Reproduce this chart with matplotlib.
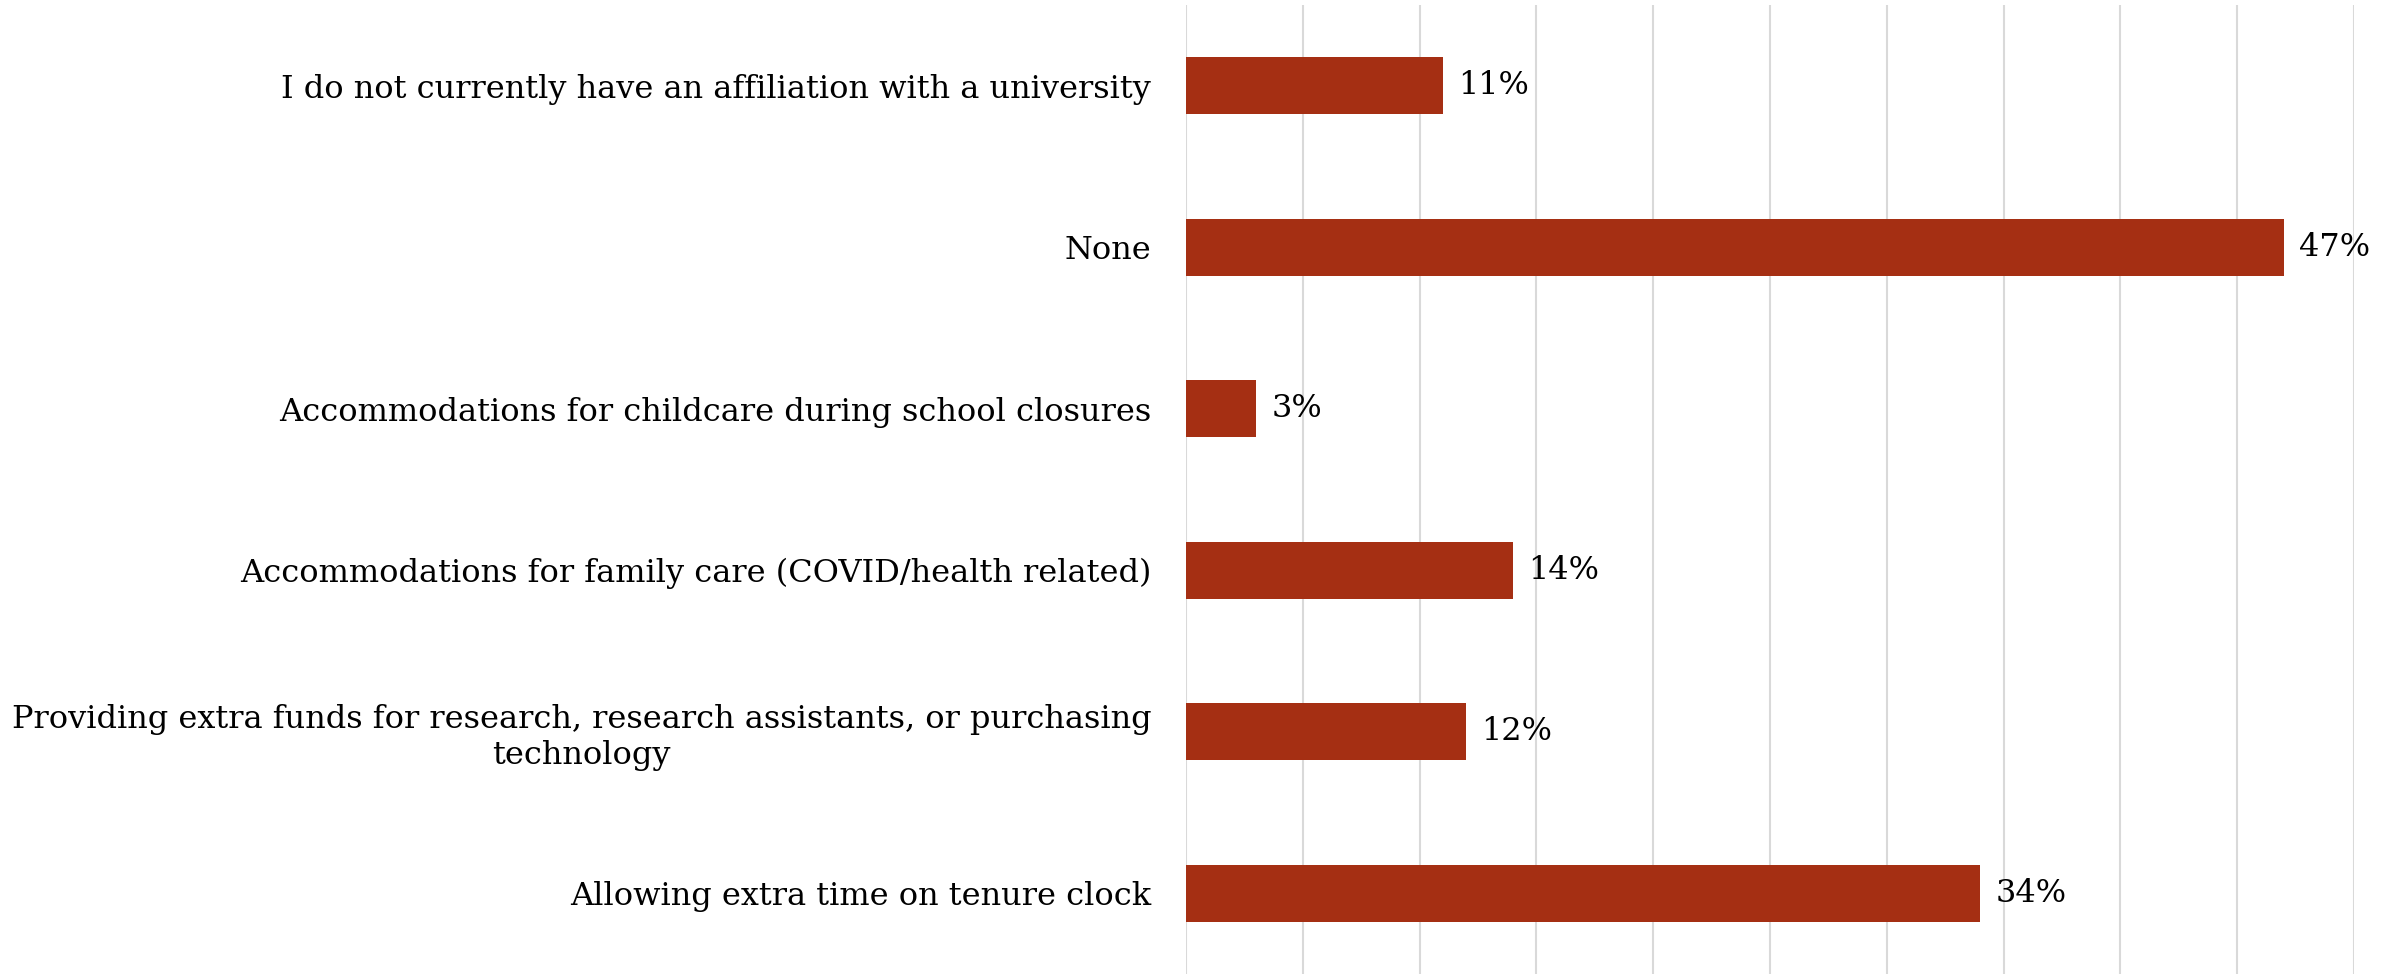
import matplotlib
matplotlib.use("Agg")
import matplotlib.pyplot as plt
import numpy as np

categories = [
    "I do not currently have an affiliation with a university",
    "None",
    "Accommodations for childcare during school closures",
    "Accommodations for family care (COVID/health related)",
    "Providing extra funds for research, research assistants, or purchasing\ntechnology",
    "Allowing extra time on tenure clock",
]
values = [11, 47, 3, 14, 12, 34]
labels = ["11%", "47%", "3%", "14%", "12%", "34%"]

plt.rcParams['font.family'] = ['DejaVu Serif']

fig = plt.figure(figsize=(23.97, 9.74), dpi=100)
ax = fig.add_axes([1186/2397, 0.0, (2354-1186)/2397, 1 - 5/974])

y = np.arange(len(categories))
ax.barh(y, values, height=0.35, color="#A52F13", zorder=3)
ax.set_ylim(len(categories) - 0.5, -0.5)
ax.set_xlim(0, 50)
ax.set_xticks(np.arange(0, 51, 5))
ax.set_xticklabels([])
ax.tick_params(axis='x', length=0)
ax.grid(axis='x', color="#d9d9d9", linewidth=1.5, zorder=0)
ax.set_yticks(y)
ax.set_yticklabels(categories, fontsize=23, multialignment='center')
ax.tick_params(axis='y', length=0, pad=25)
for s in ax.spines.values():
    s.set_visible(False)

for yi, v, lab in zip(y, values, labels):
    ax.annotate(lab, (v, yi), xytext=(11, 0), textcoords='offset points',
                va='center', ha='left', fontsize=23, annotation_clip=False)

fig.savefig("out.png", dpi=100)
